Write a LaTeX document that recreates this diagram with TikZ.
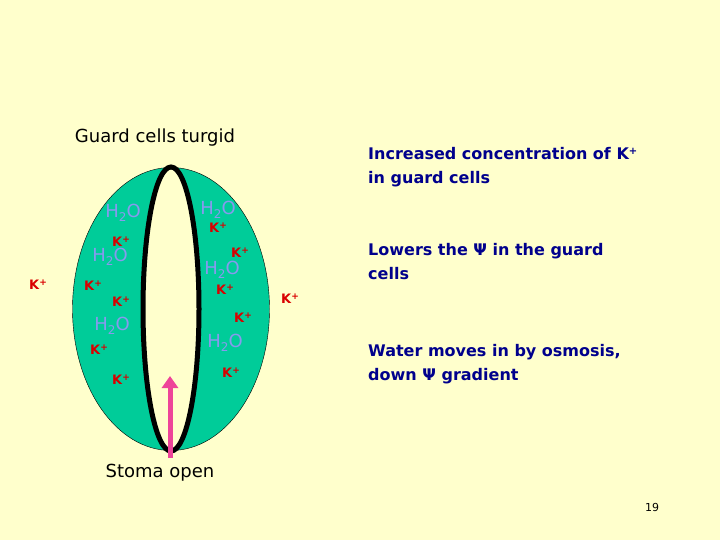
\documentclass[tikz,border=0pt]{standalone}
\usepackage{fontspec}
\setmainfont{DejaVu Sans}
\usetikzlibrary{shapes.geometric,arrows.meta}
\newcommand{\hho}{H\raisebox{-0.35ex}{\fontsize{12}{12}\selectfont 2}O}
\newcommand{\kp}{K\raisebox{0.6ex}{\fontsize{9}{9}\selectfont +}}
\begin{document}
\begin{tikzpicture}[x=1pt,y=-1pt,
  kion/.style={text=red!85!black,font=\bfseries\fontsize{13}{13}\selectfont,inner sep=0pt},
  note/.style={text=blue!55!black,font=\bfseries\fontsize{16}{24}\selectfont,align=left,anchor=west,inner sep=0pt},
  lbl/.style={font=\fontsize{18}{18}\selectfont,inner sep=0pt}]
\definecolor{bg}{HTML}{FFFFCC}
\definecolor{cellg}{HTML}{00CC99}
\definecolor{wat}{HTML}{8899EE}
\definecolor{pinkarr}{HTML}{EE4499}
\tikzset{water/.style={text=wat,font=\fontsize{18}{18}\selectfont,inner sep=0pt}}
\fill[bg] (0,0) rectangle (720,540);
\useasboundingbox (0,0) rectangle (720,540);
\node[draw=black,fill=cellg,ellipse,minimum width=197,minimum height=283,inner sep=0] (cell) at (171,309) {};
\node[draw=black,line width=5,fill=bg,ellipse,minimum width=56,minimum height=284,inner sep=0] (pore) at (171,309) {};
\coordinate (ab) at (170,458);
\coordinate (at) at (170,376);
\draw[pinkarr,line width=5,-{Triangle[length=12,width=16]}] (ab) -- (at);
\node[lbl] (t1) at (155,138) {Guard cells turgid};
\node[lbl] (t2) at (160,473) {Stoma open};
\node[water] (w1) at (123,213) {\hho};
\node[water] (w2) at (110,257) {\hho};
\node[water] (w3) at (112,326) {\hho};
\node[water] (w4) at (218,210) {\hho};
\node[water] (w5) at (222,270) {\hho};
\node[water] (w6) at (225,343) {\hho};
\node[kion] (k1) at (121,242) {\kp};
\node[kion] (k2) at (93,286) {\kp};
\node[kion] (k3) at (121,302) {\kp};
\node[kion] (k4) at (99,350) {\kp};
\node[kion] (k5) at (121,380) {\kp};
\node[kion] (k6) at (38,285) {\kp};
\node[kion] (k7) at (218,228) {\kp};
\node[kion] (k8) at (240,253) {\kp};
\node[kion] (k9) at (225,290) {\kp};
\node[kion] (k10) at (243,318) {\kp};
\node[kion] (k11) at (231,373) {\kp};
\node[kion] (k12) at (290,299) {\kp};
\node[note] (n1) at (368,167) {Increased concentration of K\raisebox{0.6ex}{\fontsize{10}{10}\selectfont +}\\in guard cells};
\node[note] (n2) at (368,262) {Lowers the Ψ in the guard\\cells};
\node[note] (n3) at (368,364) {Water moves in by osmosis,\\down Ψ gradient};
\node[font=\fontsize{11}{11}\selectfont,inner sep=0] (pg) at (652,507) {19};
\end{tikzpicture}
\end{document}
